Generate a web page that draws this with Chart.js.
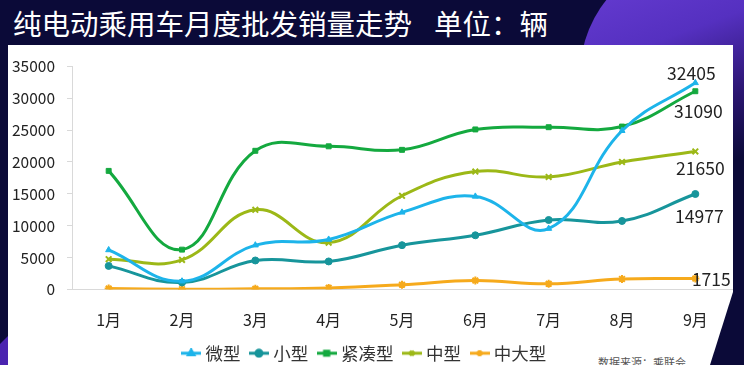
<!DOCTYPE html>
<html>
<head>
<meta charset="utf-8">
<script src="https://cdn.jsdelivr.net/npm/chart.js@4.4.1/dist/chart.umd.min.js"></script>
<style>
  html, body { margin: 0; padding: 0; }
  body { width: 744px; height: 365px; overflow: hidden; position: relative; background: #0b0a38; font-family: "Noto Sans CJK SC", "Noto Sans", sans-serif; }
  #circle { position: absolute; left: 580px; top: -45px; width: 240px; height: 240px; border-radius: 50%;
    background: linear-gradient(160deg, #6c40d8 0%, #5530c0 35%, #2a1570 60%, #0b0a38 80%); }
  #panel { position: absolute; left: 0; top: 0; width: 744px; height: 365px; background: #fff;
    clip-path: polygon(8px 45px, 733px 45px, 733px 292px, 710px 365px, 8px 365px); }
  #corner { position: absolute; left: 0; top: 330px; width: 8px; height: 35px; background: #4a24b0;
    clip-path: polygon(0 14px, 8px 6px, 8px 35px, 0 35px); }
  #title { position: absolute; left: 13px; top: 9px; color: #fff; font-size: 28.5px; line-height: 1; white-space: pre; }
  #title span { margin-left: 22px; }
  #src { position: absolute; left: 598px; top: 354px; color: #555; font-size: 11px; white-space: pre; }
  #wrap { position: absolute; left: 0; top: 45px; width: 744px; height: 330px; }
</style>
</head>
<body>
<div id="circle"></div>
<div id="panel"></div>
<div id="corner"></div>
<div id="title">纯电动乘用车月度批发销量走势<span>单位：辆</span></div>
<div id="src">数据来源：乘联会</div>
<div id="wrap"><canvas id="lineChart"></canvas></div>
<script>
  const months = ['1月', '2月', '3月', '4月', '5月', '6月', '7月', '8月', '9月'];
  const weixing = [6200, 1300, 6950, 7850, 12100, 14600, 9550, 24900, 32405];
  const xiaoxing = [3700, 1100, 4550, 4400, 6950, 8500, 10900, 10750, 14977];
  const jincou = [18600, 6250, 21750, 22450, 21900, 25100, 25450, 25550, 31090];
  const zhongxing = [4750, 4650, 12500, 7350, 14700, 18500, 17650, 20000, 21650];
  const zhongda = [150, 50, 100, 250, 750, 1400, 900, 1650, 1715];
  const yTicks = [0, 5000, 10000, 15000, 20000, 25000, 30000, 35000];

  const colors = ['#1db4ea', '#17959b', '#14a93f', '#9cb817', '#f6aa1c'];
  const styles = ['triangle', 'circle', 'rect', 'crossRot', 'star'];
  const names = ['微型', '小型', '紧凑型', '中型', '中大型'];
  const series = [weixing, xiaoxing, jincou, zhongxing, zhongda];

  const FONT = '"Noto Sans CJK SC", "Noto Sans", sans-serif';

  // little line + marker pictures for the legend
  function legendIcon(color, style) {
    const c = document.createElement('canvas');
    c.width = 20; c.height = 10;
    const ctx = c.getContext('2d');
    ctx.strokeStyle = color; ctx.fillStyle = color; ctx.lineWidth = 3;
    ctx.beginPath(); ctx.moveTo(0, 5); ctx.lineTo(20, 5); ctx.stroke();
    Chart.helpers.drawPoint(ctx, { pointStyle: style, radius: 3, borderWidth: 2 }, 10, 5);
    ctx.fill();
    return c;
  }

  const datasets = series.map((d, i) => ({
    label: names[i],
    data: d,
    borderColor: colors[i],
    backgroundColor: colors[i],
    borderWidth: 3,
    pointStyle: styles[i],
    pointRadius: styles[i] === 'crossRot' || styles[i] === 'star' ? 4 : 3.5,
    pointBorderWidth: styles[i] === 'crossRot' || styles[i] === 'star' ? 2 : 1,
    tension: 0.42,
    fill: false
  }));

  // end labels at 9月
  const endLabels = [
    { ds: 0, dx: -4, dy: -10 },
    { ds: 1, dx: 4, dy: 22 },
    { ds: 2, dx: 3, dy: 20 },
    { ds: 3, dx: 5, dy: 17 },
    { ds: 4, dx: 16, dy: 1 }
  ];
  const endLabelPlugin = {
    id: 'endLabels',
    afterDatasetsDraw(chart) {
      const ctx = chart.ctx;
      const xs = chart.scales.x, ys = chart.scales.y;
      const last = months.length - 1;
      ctx.save();
      ctx.font = '17.5px ' + FONT;
      ctx.fillStyle = '#222';
      ctx.textAlign = 'center';
      ctx.textBaseline = 'middle';
      endLabels.forEach(l => {
        const v = series[l.ds][last];
        ctx.fillText(String(v), xs.getPixelForValue(last) + l.dx, ys.getPixelForValue(v) + l.dy);
      });
      ctx.restore();
    }
  };

  const config_line = {
    type: 'line',
    data: { labels: months, datasets: datasets },
    options: {
      responsive: true,
      maintainAspectRatio: false,
      animation: false,
      layout: { padding: { top: 15, right: 12, left: 0, bottom: 3 } },
      plugins: {
        tooltip: { enabled: false },
        legend: {
          position: 'bottom',
          labels: {
            usePointStyle: true,
            pointStyleWidth: 11,
            padding: 13,
            color: '#333',
            font: { size: 17.5, family: FONT },
            generateLabels: chart => chart.data.datasets.map((ds, i) => ({
              text: ds.label,
              fillStyle: colors[i],
              strokeStyle: colors[i],
              lineWidth: 0,
              pointStyle: legendIcon(colors[i], styles[i]),
              datasetIndex: i,
              fontColor: '#333'
            }))
          }
        }
      },
      scales: {
        x: {
          offset: true,
          grid: { display: false, drawTicks: false },
          border: { display: true, color: '#d9d9d9', width: 1 },
          ticks: { color: '#222', padding: 21, font: { size: 16, family: FONT } },
          afterFit: s => { s.height = 42; }
        },
        y: {
          min: 0,
          max: 35000,
          afterBuildTicks: s => { s.ticks = yTicks.map(v => ({ value: v })); },
          grid: { drawOnChartArea: false, tickLength: 5, color: '#d9d9d9' },
          border: { display: true, color: '#d9d9d9', width: 1 },
          ticks: { color: '#222', padding: 12, font: { size: 15.5, family: FONT }, callback: v => String(v) },
          afterFit: s => { s.width = 72; }
        }
      }
    },
    plugins: [endLabelPlugin]
  };

  const chart_line = new Chart(
    document.getElementById('lineChart').getContext('2d'),
    config_line
  );
</script>
</body>
</html>
